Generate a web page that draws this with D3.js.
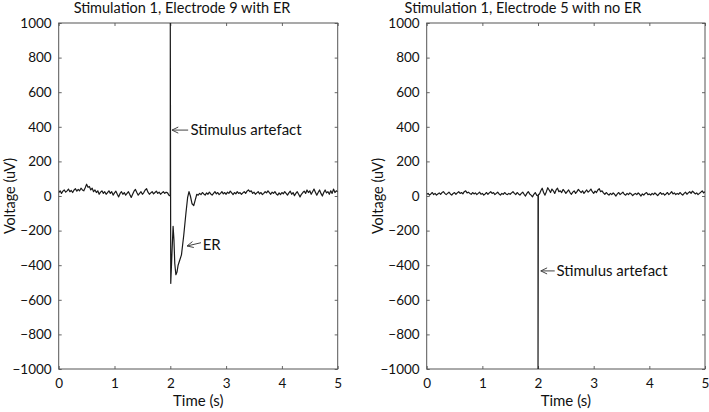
<!DOCTYPE html>
<html>
<head>
<meta charset="utf-8">
<script src="https://cdn.jsdelivr.net/npm/d3@7"></script>
<style>
	body { margin: 0; background: #fff; }
	svg text { font-family: Lato, "Open Sans", sans-serif; fill: #111; }
</style>
</head>
<body>
<svg id="chart_svg"></svg>
<script>
const SVG_WIDTH = 709;
const SVG_HEIGHT = 412;

const DT = 0.025;
const xTicks = [0, 1, 2, 3, 4, 5];
const yTicks = [1000, 800, 600, 400, 200, 0, -200, -400, -600, -800, -1000];

// left panel: electrode 9, baseline before the pulse (0 .. 1.975 s)
const leftPre = [
	20, 30, 15, 28, 35, 22, 30, 40, 25, 32,
	20, 35, 42, 28, 38, 30, 45, 35, 30, 48,
	68, 50, 55, 35, 45, 25, 35, 20, 30, 10,
	22, 30, 15, 25, 10, 20, 30, 15, 25, 5,
	18, 28, 10, -5, 15, 25, 10, 20, 5, 15,
	25, 8, -8, 10, 28, 38, 20, 5, 15, 25,
	10, 20, 35, 42, 22, 10, 18, 25, 12, 20,
	28, 15, 22, 10, 18, 25, 15, 22, 18, 5
];
// stimulus artefact and evoked response
const leftEventT = [2.0, 2.0, 2.008, 2.03, 2.05, 2.065, 2.08, 2.1, 2.12, 2.14, 2.17, 2.2, 2.24, 2.28, 2.31, 2.335, 2.36, 2.39, 2.42, 2.45, 2.475];
const leftEventV = [0, 1000, -505, -330, -175, -250, -390, -455, -440, -400, -370, -340, -230, -100, -10, 25, 0, -45, -55, -20, 10];
// 2.5 .. 5 s
const leftPost = [
	5, 15, 8, 20, 12, 5, 18, 10, 22, 12,
	5, 15, 25, 12, 20, 8, 15, 25, 12, 20,
	10, 22, 15, 28, 18, 8, 20, 12, 25, 15,
	20, 10, 18, 25, 15, 28, 35, 25, 30, 15,
	22, 10, 18, 25, 12, 20, 8, 15, 25, 18,
	30, 20, 10, 22, 15, 25, 12, 5, 18, 8,
	20, 12, 25, 15, 5, 18, 28, 10, 20, 2,
	15, 25, 10, -5, 10, 20, 28, 15, 35, 20,
	30, 10, 25, 40, 22, 5, 20, 35, 15, 0,
	20, 35, 18, 25, 10, 30, 15, 40, 20, 30,
	25
];

// right panel: electrode 5, 0 .. 1.975 s
const rightPre = [
	10, 15, 5, 12, 20, 8, 15, 5, 12, 18,
	10, 20, 25, 15, 8, 15, 22, 12, 5, 15,
	20, 10, 18, 25, 15, 20, 12, 25, 30, 18,
	22, 15, 10, 20, 12, 18, 8, 15, 22, 10,
	15, 5, 12, 20, 10, 18, 25, 15, 20, 8,
	15, 22, 12, 5, 15, 10, 20, 12, 8, 15,
	10, 18, 25, 15, 8, 20, 12, 5, 15, 22,
	10, 0, 15, 25, 12, 5, -5, 10, 20, 5
];
const rightEventT = [2.0, 2.0, 2.006];
const rightEventV = [0, -1000, 10];
// 2.025 .. 5 s
const rightPost = [
	10, 30, 45, 20, 5, 25, 48, 35, 20, 40,
	30, 15, 35, 45, 25, 30, 20, 38, 28, 15,
	25, 35, 20, 10, 22, 30, 15, 25, 38, 28,
	20, 30, 15, 25, 35, 22, 30, 40, 25, 15,
	28, 20, 35, 42, 25, 30, 18, 10, 20, 12,
	5, 15, 8, 18, 10, 0, 12, 20, 8, 15,
	22, 10, 5, 15, 8, 18, 12, 2, 10, 15,
	8, 18, 10, 0, 12, 5, 15, 20, 8, 12,
	5, 15, 8, 18, 10, 2, 12, 20, 10, 15,
	5, 12, 20, 8, 15, 25, 12, 18, 8, 15,
	10, 20, 12, 5, 15, 22, 10, 18, 25, 15,
	28, 20, 12, 18, 8, 15, 22, 30, 18, 25
];

const panels = [
	{
		title: 'Stimulation 1, Electrode 9 with ER', titleX: 182,
		left: 58.7, right: 337.7,
		pre: leftPre, preStart: 0, eventT: leftEventT, eventV: leftEventV, post: leftPost, postStart: 2.5,
		notes: [
			{text: 'Stimulus artefact', tip: [2.03, 381], tail: [2.32, 381], at: [2.36, 381]},
			{text: 'ER', tip: [2.3, -289], tail: [2.55, -270], at: [2.58, -280]}
		]
	},
	{
		title: 'Stimulation 1, Electrode 5 with no ER', titleX: 523,
		left: 426.7, right: 705,
		pre: rightPre, preStart: 0, eventT: rightEventT, eventV: rightEventV, post: rightPost, postStart: 2.025,
		notes: [
			{text: 'Stimulus artefact', tip: [2.05, -433], tail: [2.3, -433], at: [2.33, -433]}
		]
	}
];

const TOP = 23;
const BOTTOM = 369;

const buildSeries = p => {
	const pts = [];
	p.pre.forEach((v, i) => pts.push([p.preStart + i * DT, v]));
	p.eventT.forEach((t, i) => pts.push([t, p.eventV[i]]));
	p.post.forEach((v, i) => pts.push([p.postStart + i * DT, v]));
	return pts;
};

const svg = d3.select('#chart_svg')
	.attr('width', SVG_WIDTH)
	.attr('height', SVG_HEIGHT);

panels.forEach((p, k) => {
	const x = d3.scaleLinear().domain([0, 5]).range([p.left, p.right]);
	const y = d3.scaleLinear().domain([-1000, 1000]).range([BOTTOM, TOP]);
	const g = svg.append('g');

	g.append('clipPath')
		.attr('id', `clip${k}`)
		.append('rect')
		.attr('x', p.left).attr('y', TOP)
		.attr('width', p.right - p.left).attr('height', BOTTOM - TOP);

	// axes with inward ticks, MATLAB style box
	g.append('g')
		.attr('transform', `translate(0,${BOTTOM})`)
		.call(d3.axisBottom(x).tickValues(xTicks).tickSize(-3).tickPadding(9).tickFormat(d3.format('d')))
		.call(a => a.select('.domain').remove());
	g.append('g')
		.attr('transform', `translate(0,${TOP})`)
		.call(d3.axisTop(x).tickValues(xTicks).tickSize(-3).tickFormat(''))
		.call(a => a.select('.domain').remove());
	g.append('g')
		.attr('transform', `translate(${p.left},0)`)
		.call(d3.axisLeft(y).tickValues(yTicks).tickSize(-3).tickPadding(7).tickFormat(d3.format('d')))
		.call(a => a.select('.domain').remove());
	g.append('g')
		.attr('transform', `translate(${p.right},0)`)
		.call(d3.axisRight(y).tickValues(yTicks).tickSize(-3).tickFormat(''))
		.call(a => a.select('.domain').remove());

	g.selectAll('.tick line').attr('stroke', '#666');
	g.selectAll('.tick text')
		.attr('font-size', 13.5)
		.style('font-family', 'Lato, "Open Sans", sans-serif')
		.attr('fill', '#111');

	g.append('rect')
		.attr('x', p.left).attr('y', TOP)
		.attr('width', p.right - p.left).attr('height', BOTTOM - TOP)
		.attr('fill', 'none')
		.attr('stroke', '#555')
		.attr('stroke-width', 1);

	const line = d3.line()
		.x(d => x(d[0]))
		.y(d => y(d[1]));

	g.append('path')
		.datum(buildSeries(p))
		.attr('clip-path', `url(#clip${k})`)
		.attr('fill', 'none')
		.attr('stroke', '#1a1a1a')
		.attr('stroke-width', 1.2)
		.attr('stroke-linejoin', 'round')
		.attr('d', line);

	g.append('text')
		.attr('x', p.titleX)
		.attr('y', 13)
		.attr('text-anchor', 'middle')
		.attr('font-size', 14.5)
		.text(p.title);

	g.append('text')
		.attr('x', (p.left + p.right) / 2)
		.attr('y', 406)
		.attr('text-anchor', 'middle')
		.attr('font-size', 15)
		.text('Time (s)');

	g.append('text')
		.attr('transform', `translate(${p.left - 44},${y(0)}) rotate(-90)`)
		.attr('text-anchor', 'middle')
		.attr('font-size', 14.5)
		.text('Voltage (uV)');

	// annotations with open arrow heads
	p.notes.forEach(n => {
		const tx = x(n.tip[0]), ty = y(n.tip[1]);
		const sx = x(n.tail[0]), sy = y(n.tail[1]);
		const ang = Math.atan2(sy - ty, sx - tx);
		const hl = 7, ha = 0.45;
		g.append('path')
			.attr('fill', 'none')
			.attr('stroke', '#444')
			.attr('stroke-width', 1)
			.attr('d', `M${sx},${sy}L${tx},${ty}` +
				`M${tx + hl * Math.cos(ang + ha)},${ty + hl * Math.sin(ang + ha)}L${tx},${ty}` +
				`L${tx + hl * Math.cos(ang - ha)},${ty + hl * Math.sin(ang - ha)}`);
		g.append('text')
			.attr('x', x(n.at[0]))
			.attr('y', y(n.at[1]))
			.attr('dy', '0.35em')
			.attr('font-size', 15)
			.text(n.text);
	});
});
</script>
</body>
</html>
